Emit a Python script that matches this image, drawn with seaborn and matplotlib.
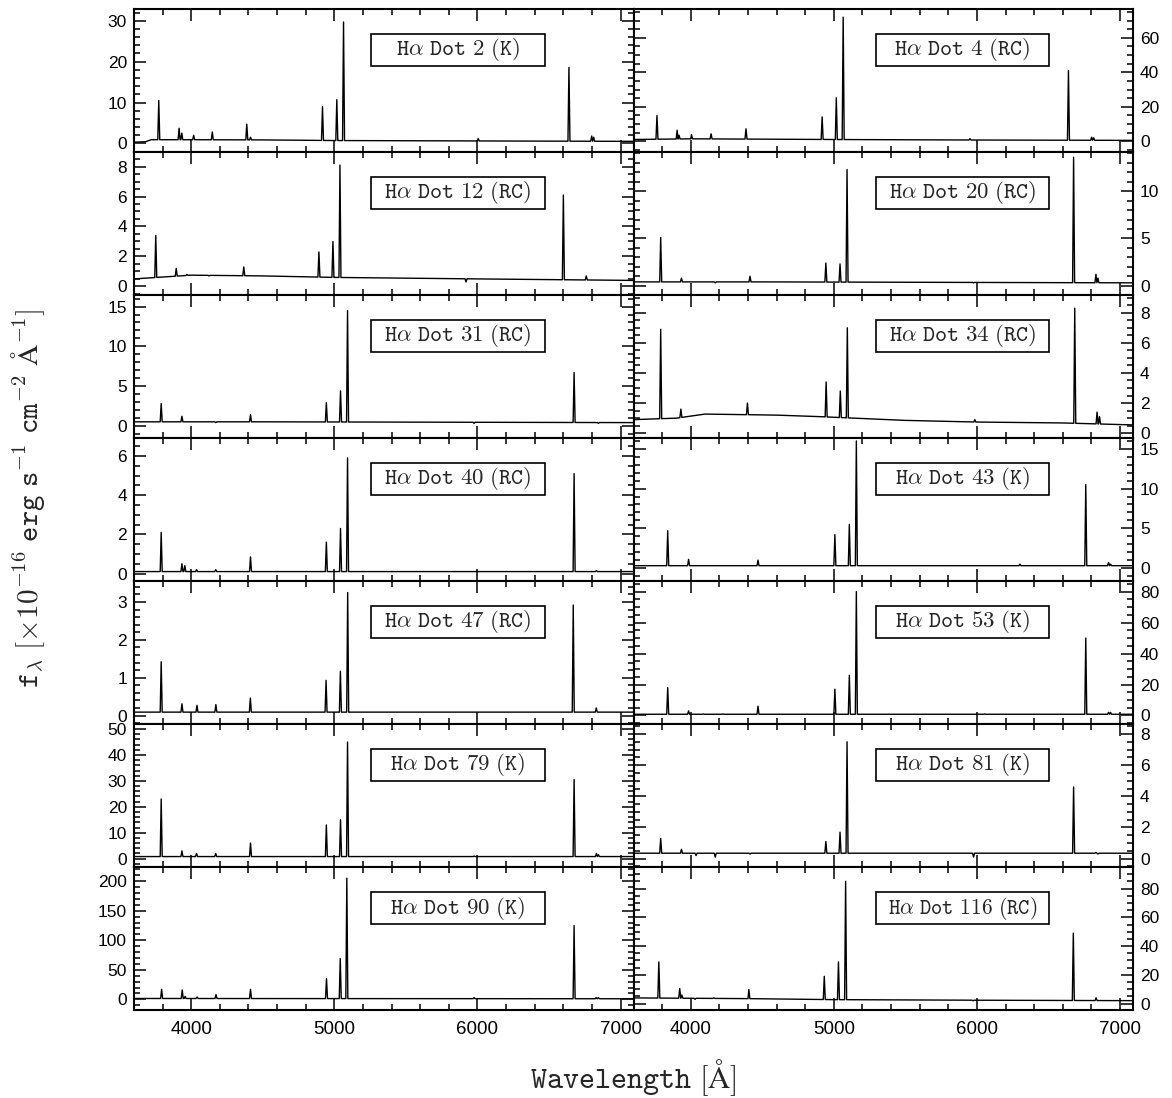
#!/usr/bin/env python3
# -*- coding: utf-8 -*-
"""Espectros de las fuentes H-alpha Dot (panel 7x2)."""

import numpy as np
import pandas as pd
import matplotlib
matplotlib.use('Agg')
import matplotlib.pyplot as plt
import seaborn as sns
from matplotlib.ticker import MultipleLocator
from matplotlib.patches import Rectangle

sns.set_style('ticks')
plt.rcParams['font.family'] = ['Liberation Sans', 'DejaVu Sans']
plt.rcParams['mathtext.fontset'] = 'cm'

# ---------------- datos ----------------
# lineas de emision: longitud de onda observada [A] y flujo de pico
# continuo: puntos de anclaje (longitud de onda, flujo)

dot2_lw = [3773, 3915, 3934, 4017, 4147, 4388, 4414, 4917, 5017, 5064, 6005, 6639, 6798, 6812]
dot2_lf = [10.5, 3.7, 2.5, 2.0, 2.8, 4.7, 1.5, 9.0, 10.7, 29.7, 1.2, 18.6, 1.8, 1.5]
dot2_cw = [3600, 3680, 3720, 4000, 4500, 5000, 6000, 7090]
dot2_cf = [0.3, 0.4, 0.9, 0.9, 0.85, 0.7, 0.6, 0.5]

dot4_lw = [3764, 3905, 3918, 4005, 4142, 4386, 4918, 5017, 5065, 5951, 6639, 6801, 6815]
dot4_lf = [14.9, 6.4, 3.5, 3.9, 4.3, 7.2, 14.1, 25.2, 72.0, 1.5, 41.0, 2.3, 2.0]
dot4_cw = [3600, 4000, 5000, 6000, 7090]
dot4_cf = [1.0, 1.4, 1.0, 0.7, 0.5]

dot12_lw = [3752, 3895, 3970, 4125, 4367, 4892, 4990, 5039, 5920, 6600, 6760]
dot12_lf = [3.4, 1.2, 0.8, 0.7, 1.3, 2.3, 3.0, 8.1, 0.3, 6.1, 0.7]
dot12_cw = [3600, 4000, 4500, 5000, 6000, 7090]
dot12_cf = [0.5, 0.75, 0.7, 0.6, 0.5, 0.4]

dot20_lw = [3790, 3935, 4037, 4171, 4414, 4944, 5043, 5092, 5976, 6675, 6831, 6845]
dot20_lf = [5.1, 0.8, 0.4, 0.3, 1.0, 2.4, 2.3, 12.3, 0.3, 13.6, 1.2, 0.8]
dot20_cw = [3600, 4500, 7090]
dot20_cf = [0.4, 0.4, 0.3]

dot31_lw = [3790, 3935, 4037, 4171, 4414, 4944, 5043, 5092, 5976, 6675, 6831, 6845]
dot31_lf = [2.8, 1.2, 0.5, 0.4, 1.4, 2.9, 4.4, 14.5, 0.3, 6.7, 0.4, 0.3]
dot31_cw = [3600, 4500, 7090]
dot31_cf = [0.5, 0.5, 0.4]

dot34_lw = [3790, 3931, 4396, 4946, 5045, 5094, 5985, 6683, 6839, 6856]
dot34_lf = [6.9, 1.6, 2.0, 3.4, 2.8, 7.0, 0.9, 8.3, 1.4, 1.1]
dot34_cw = [3600, 3900, 4100, 4600, 4900, 5500, 6000, 6600, 7090]
dot34_cf = [0.9, 1.0, 1.27, 1.2, 1.1, 0.85, 0.74, 0.68, 0.55]

dot40_lw = [3790, 3935, 3955, 4037, 4171, 4414, 4944, 5043, 5092, 6675, 6831]
dot40_lf = [2.1, 0.5, 0.4, 0.2, 0.2, 0.85, 1.6, 2.3, 5.9, 5.1, 0.15]
dot40_cw = [3600, 7090]
dot40_cf = [0.1, 0.1]

dot43_lw = [3839, 3985, 4089, 4224, 4470, 5007, 5108, 5157, 6052, 6300, 6760, 6919, 6933]
dot43_lf = [4.7, 1.1, 0.3, 0.3, 1.0, 4.2, 5.5, 16.0, 0.3, 0.5, 10.5, 0.7, 0.5]
dot43_cw = [3600, 7090]
dot43_cf = [0.3, 0.3]

dot47_lw = [3790, 3935, 4040, 4172, 4413, 4942, 5042, 5093, 6669, 6830]
dot47_lf = [1.42, 0.31, 0.27, 0.29, 0.46, 0.93, 1.17, 3.25, 2.92, 0.2]
dot47_cw = [3600, 7090]
dot47_cf = [0.09, 0.09]

dot53_lw = [3839, 3985, 4089, 4224, 4470, 5007, 5108, 5157, 6052, 6760, 6919, 6933]
dot53_lf = [18, 3, 1, 1, 6, 17, 26, 80, 1, 50, 2, 2]
dot53_cw = [3600, 7090]
dot53_cf = [0.8, 0.8]

dot79_lw = [3790, 3935, 4037, 4171, 4414, 4944, 5043, 5092, 5976, 6675, 6831, 6845]
dot79_lf = [23, 3, 2, 2, 6, 13, 15, 45, 1, 30.5, 2, 1.5]
dot79_cw = [3600, 7090]
dot79_cf = [0.8, 0.8]

dot81_lw = [3790, 3935, 4037, 4171, 4414, 4944, 5043, 5092, 5976, 6675, 6831, 6845]
dot81_lf = [1.3, 0.6, 0.2, 0.1, 0.3, 1.1, 1.7, 7.5, 0.1, 4.6, 0.4, 0.3]
dot81_cw = [3600, 7090]
dot81_cf = [0.35, 0.35]

dot90_lw = [3793, 3937, 3957, 4041, 4173, 4414, 4945, 5041, 5087, 5976, 6407, 6675, 6829, 6845]
dot90_lf = [17, 16, 5, 4, 8, 17, 35, 69, 205, 3, 1, 125, 3, 3]
dot90_cw = [3600, 7090]
dot90_cf = [1.5, 1.0]

dot116_lw = [3777, 3923, 3938, 4030, 4161, 4406, 4933, 5032, 5082, 5973, 6673, 6832]
dot116_lf = [29, 10.5, 6, 3, 4, 9.8, 19, 29, 85, 2, 49, 4]
dot116_cw = [3600, 4400, 5000, 6000, 7090]
dot116_cf = [4.0, 3.5, 2.8, 2.4, 2.1]

# etiquetas, limites y ticks (orden por filas: izquierda, derecha)
labels = ['2 (K)', '4 (RC)', '12 (RC)', '20 (RC)', '31 (RC)', '34 (RC)',
          '40 (RC)', '43 (K)', '47 (RC)', '53 (K)', '79 (K)', '81 (K)',
          '90 (K)', '116 (RC)']
line_w = [dot2_lw, dot4_lw, dot12_lw, dot20_lw, dot31_lw, dot34_lw, dot40_lw,
          dot43_lw, dot47_lw, dot53_lw, dot79_lw, dot81_lw, dot90_lw, dot116_lw]
line_f = [dot2_lf, dot4_lf, dot12_lf, dot20_lf, dot31_lf, dot34_lf, dot40_lf,
          dot43_lf, dot47_lf, dot53_lf, dot79_lf, dot81_lf, dot90_lf, dot116_lf]
cont_w = [dot2_cw, dot4_cw, dot12_cw, dot20_cw, dot31_cw, dot34_cw, dot40_cw,
          dot43_cw, dot47_cw, dot53_cw, dot79_cw, dot81_cw, dot90_cw, dot116_cw]
cont_f = [dot2_cf, dot4_cf, dot12_cf, dot20_cf, dot31_cf, dot34_cf, dot40_cf,
          dot43_cf, dot47_cf, dot53_cf, dot79_cf, dot81_cf, dot90_cf, dot116_cf]
y_lims = [(-2.0, 33.0), (-6, 77), (-0.55, 9.0), (-0.95, 14.2), (-1.5, 16.5),
          (-0.3, 9.2), (-0.37, 6.93), (-1.6, 16.4), (-0.22, 3.56), (-5.4, 87),
          (-3.2, 52), (-0.53, 8.65), (-18, 224), (-4.4, 95)]
y_major = [10, 20, 2, 5, 5, 2, 2, 5, 1, 20, 10, 2, 50, 20]
y_minor = [2, 5, 0.5, 1, 1, 0.5, 0.5, 1, 0.2, 5, 2, 0.5, 10, 5]


def espectro(lw, lf, cw, cf, semiancho=7.0):
    """Une continuo y lineas (perfiles triangulares) en una sola curva."""
    w = list(cw)
    f = list(cf)
    for centro, pico in zip(lw, lf):
        for x in (centro - semiancho, centro + semiancho):
            w.append(x)
            f.append(np.interp(x, cw, cf))
        w.append(centro)
        f.append(pico)
    df = pd.DataFrame({'wave': w, 'flux': f}).sort_values('wave')
    return df


fig, axes = plt.subplots(7, 2, figsize=(11.72, 10.98), dpi=100)
fig.subplots_adjust(left=134 / 1172, right=1133 / 1172, top=1 - 8.5 / 1098,
                    bottom=1 - 1010 / 1098, wspace=0, hspace=0)

for i, ax in enumerate(axes.flat):
    col = i % 2
    df = espectro(line_w[i], line_f[i], cont_w[i], cont_f[i])
    sns.lineplot(data=df, x='wave', y='flux', sort=False, estimator=None,
                 color='black', lw=1.0, ax=ax)
    ax.set_xlim(3600, 7090)
    ax.set_ylim(*y_lims[i])
    ax.xaxis.set_major_locator(MultipleLocator(1000))
    ax.xaxis.set_minor_locator(MultipleLocator(200))
    ax.yaxis.set_major_locator(MultipleLocator(y_major[i]))
    ax.yaxis.set_minor_locator(MultipleLocator(y_minor[i]))
    ax.tick_params(which='both', direction='in', top=True, bottom=True,
                   left=True, right=True, width=1.1, colors='black')
    ax.tick_params(which='major', length=8.5)
    ax.tick_params(which='minor', length=4.3)
    ax.tick_params(axis='x', labelsize=13.5, pad=8)
    ax.tick_params(axis='y', labelsize=12.5, pad=5)
    ax.tick_params(labelleft=(col == 0), labelright=(col == 1),
                   labelbottom=(i >= 12))
    ax.set_xlabel('')
    ax.set_ylabel('')
    for sp in ax.spines.values():
        sp.set_linewidth(1.5)
        sp.set_color('black')

    # recuadro con el nombre
    x0, x1 = (0.474, 0.823) if col == 0 else (0.485, 0.832)
    ax.add_patch(Rectangle((x0, 0.60), x1 - x0, 0.225, transform=ax.transAxes,
                           fill=False, lw=1.2, ec='black', zorder=5))
    etiqueta = r'$\mathtt{H}\alpha\mathtt{\ Dot\ ' + labels[i].replace(' ', r'\ ') + '}$'
    tam = 15.5 if len(labels[i]) > 7 else 16.5
    ax.text((x0 + x1) / 2, 0.7125, etiqueta, transform=ax.transAxes,
            ha='center', va='center', fontsize=tam, zorder=6)

fig.text(0.540, 0.009, r'$\mathtt{Wavelength\ [\AA]}$', ha='center',
         va='baseline', fontsize=22)
fig.text(0.024, 0.5464,
         r'$\mathtt{f}_\lambda\ \mathtt{[\times 10^{-16}\ erg\ s^{-1}\ cm^{-2}\ \AA^{-1}]}$',
         ha='center', va='center', rotation=90, fontsize=21)

fig.savefig('out.png', dpi=100)
